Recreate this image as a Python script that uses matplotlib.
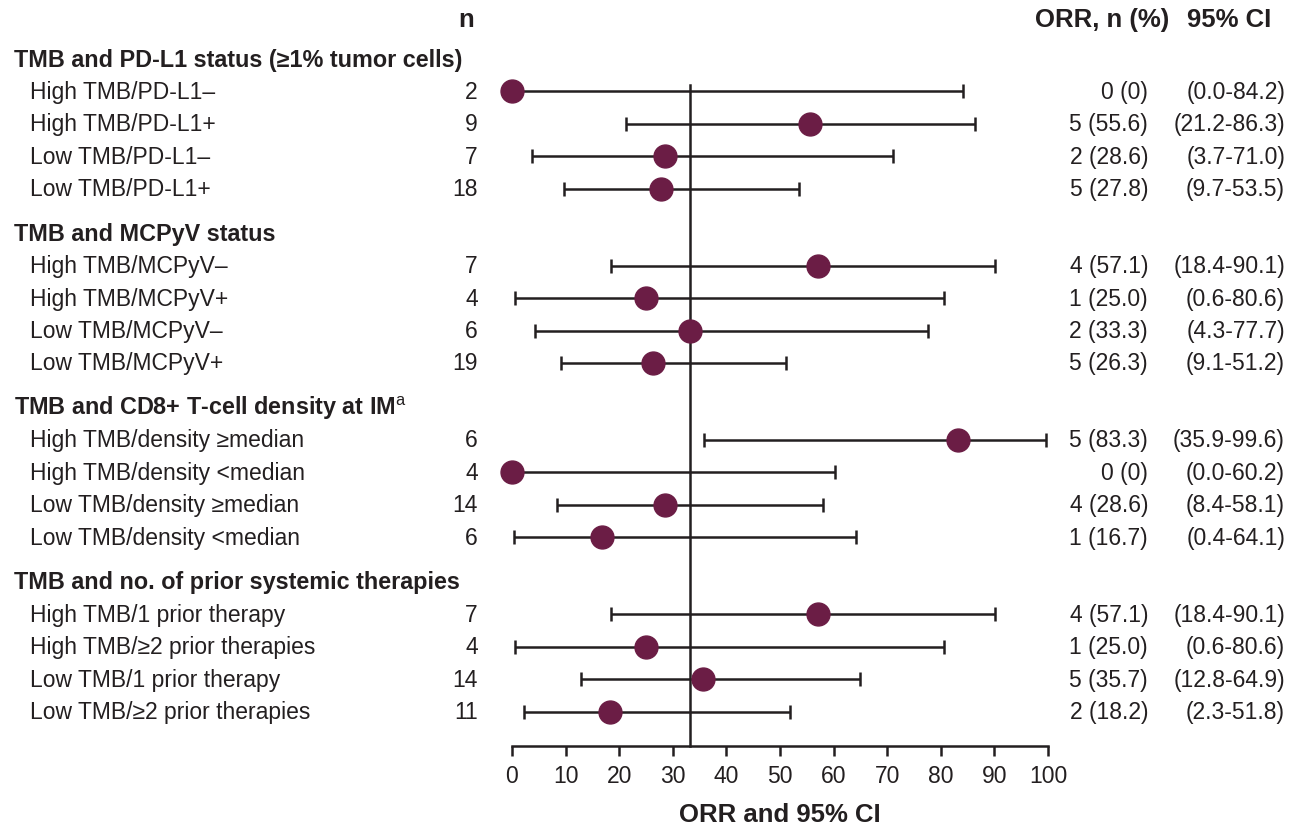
import matplotlib
matplotlib.use("Agg")
import matplotlib.pyplot as plt
import numpy as np

plt.rcParams['font.family'] = ['Liberation Sans', 'DejaVu Sans']
plt.rcParams['mathtext.fontset'] = 'custom'
plt.rcParams['mathtext.rm'] = 'Liberation Sans'

groups = [
    "TMB and PD-L1 status (≥1% tumor cells)",
    "TMB and MCPyV status",
    "TMB and CD8+ T-cell density at IM$^{\\mathrm{a}}$",
    "TMB and no. of prior systemic therapies",
]
labels = [
    ["High TMB/PD-L1–", "High TMB/PD-L1+", "Low TMB/PD-L1–", "Low TMB/PD-L1+"],
    ["High TMB/MCPyV–", "High TMB/MCPyV+", "Low TMB/MCPyV–", "Low TMB/MCPyV+"],
    ["High TMB/density ≥median", "High TMB/density <median", "Low TMB/density ≥median", "Low TMB/density <median"],
    ["High TMB/1 prior therapy", "High TMB/≥2 prior therapies", "Low TMB/1 prior therapy", "Low TMB/≥2 prior therapies"],
]
n_vals = [[2, 9, 7, 18], [7, 4, 6, 19], [6, 4, 14, 6], [7, 4, 14, 11]]
responders = [[0, 5, 2, 5], [4, 1, 2, 5], [5, 0, 4, 1], [4, 1, 5, 2]]
orr = [[0.0, 55.6, 28.6, 27.8], [57.1, 25.0, 33.3, 26.3], [83.3, 0.0, 28.6, 16.7], [57.1, 25.0, 35.7, 18.2]]
orr_txt = [["0 (0)", "5 (55.6)", "2 (28.6)", "5 (27.8)"],
           ["4 (57.1)", "1 (25.0)", "2 (33.3)", "5 (26.3)"],
           ["5 (83.3)", "0 (0)", "4 (28.6)", "1 (16.7)"],
           ["4 (57.1)", "1 (25.0)", "5 (35.7)", "2 (18.2)"]]
ci_lo = [[0.0, 21.2, 3.7, 9.7], [18.4, 0.6, 4.3, 9.1], [35.9, 0.0, 8.4, 0.4], [18.4, 0.6, 12.8, 2.3]]
ci_hi = [[84.2, 86.3, 71.0, 53.5], [90.1, 80.6, 77.7, 51.2], [99.6, 60.2, 58.1, 64.1], [90.1, 80.6, 64.9, 51.8]]
overall_orr = 33.3
xticks = list(range(0, 101, 10))

W, H = 1291, 829
fig = plt.figure(figsize=(W / 100, H / 100), dpi=100)
ax_left, ax_right = 512, 1048
ax_bottom_px = 747
ax = fig.add_axes([ax_left / W, 1 - ax_bottom_px / H, (ax_right - ax_left) / W, ax_bottom_px / H])

row_h = 32.4
grp_h = 174.3
first_hdr = 60.0

def ax_x(px):
    return (px - ax_left) / (ax_right - ax_left)

txt_col = "#231f20"
mk_col = "#6b1d45"
fs = 16.5
fs_grp = 16.8
fs_col = 18.5
trans = ax.get_yaxis_transform()

ax.text(ax_x(466), 20, "n", transform=trans, ha="center", va="center", fontsize=fs_col, fontweight="bold", color=txt_col, clip_on=False)
ax.text(ax_x(1102), 20, "ORR, n (%)", transform=trans, ha="center", va="center", fontsize=fs_col, fontweight="bold", color=txt_col, clip_on=False)
ax.text(ax_x(1229), 20, "95% CI", transform=trans, ha="center", va="center", fontsize=fs_col, fontweight="bold", color=txt_col, clip_on=False)

for g in range(len(groups)):
    hy = first_hdr + g * grp_h
    ax.text(ax_x(14), hy, groups[g], transform=trans, ha="left", va="center", fontsize=fs_grp, fontweight="bold", color=txt_col, clip_on=False)
    for i in range(4):
        y = hy + (i + 1) * row_h
        ax.text(ax_x(30), y, labels[g][i], transform=trans, ha="left", va="center", fontsize=fs, color=txt_col, clip_on=False)
        ax.text(ax_x(478), y, str(n_vals[g][i]), transform=trans, ha="right", va="center", fontsize=fs, color=txt_col, clip_on=False)
        ax.text(ax_x(1148), y, orr_txt[g][i], transform=trans, ha="right", va="center", fontsize=fs, color=txt_col, clip_on=False)
        ax.text(ax_x(1285), y, f"({ci_lo[g][i]:.1f}-{ci_hi[g][i]:.1f})", transform=trans, ha="right", va="center", fontsize=fs, color=txt_col, clip_on=False)
        ax.errorbar([orr[g][i]], [y],
                    xerr=[[orr[g][i] - ci_lo[g][i]], [ci_hi[g][i] - orr[g][i]]],
                    fmt="none", ecolor=txt_col, elinewidth=1.8, capsize=5, capthick=1.8, zorder=2, clip_on=False)
        ax.plot([orr[g][i]], [y], "o", color=mk_col, markersize=16.5, zorder=3, clip_on=False)

ax.plot([overall_orr, overall_orr], [86, ax_bottom_px], color=txt_col, lw=1.8, zorder=1, clip_on=False)

ax.set_xlim(0, 100)
ax.set_ylim(ax_bottom_px, 0)
for s in ["top", "right", "left"]:
    ax.spines[s].set_visible(False)
ax.spines["bottom"].set_color(txt_col)
ax.spines["bottom"].set_linewidth(1.8)
ax.set_yticks([])
ax.set_xticks(xticks)
ax.tick_params(axis="x", direction="out", length=7, width=1.8, color=txt_col, labelsize=fs, labelcolor=txt_col, pad=6)
ax.set_xlabel("ORR and 95% CI", fontsize=fs_col, fontweight="bold", color=txt_col, labelpad=11)
ax.patch.set_alpha(0)

fig.savefig("out.png", dpi=100)
